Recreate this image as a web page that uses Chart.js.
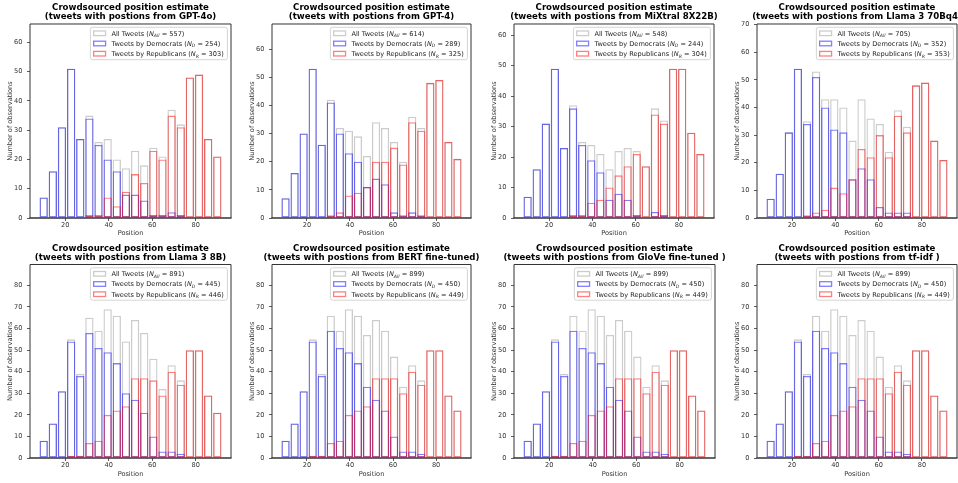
<!DOCTYPE html>
<html>
<head>
<meta charset="utf-8">
<script src="https://cdn.jsdelivr.net/npm/chart.js@4.4.1/dist/chart.umd.min.js"></script>
<style>
  html, body { margin: 0; padding: 0; background: #fff; overflow: hidden; width: 958px; height: 483px; }
  #fig { position: relative; width: 958px; height: 483px; overflow: hidden; background: #fff; }
  #fig canvas { position: absolute; }
</style>
</head>
<body>
<div id="fig"></div>
<script>
// Histogram bins shared by every panel (position scale 0-100)
const binEdges = [8, 12.2, 16.4, 20.6, 24.8, 29, 33.2, 37.4, 41.6, 45.8, 50,
                  54.2, 58.4, 62.6, 66.8, 71, 75.2, 79.4, 83.6, 87.8, 92];
const xTicks = [20, 40, 60, 80];
const yTicks60 = [0, 10, 20, 30, 40, 50, 60];
const yTicks70 = [0, 10, 20, 30, 40, 50, 60, 70];
const yTicks80 = [0, 10, 20, 30, 40, 50, 60, 70, 80];

// Counts per bin: all tweets, tweets by Democrats, tweets by Republicans
const all_gpt4o = [7, 16, 31, 51, 27, 35, 26, 27, 20, 17, 23, 18, 24, 21, 37, 32, 48, 49, 27, 21];
const dem_gpt4o = [7, 16, 31, 51, 27, 34, 25, 20, 16, 8, 8, 6, 1, 1, 2, 1, 0, 0, 0, 0];
const rep_gpt4o = [0, 0, 0, 0, 0, 1, 1, 7, 4, 9, 15, 12, 23, 20, 35, 31, 48, 49, 27, 21];

const all_gpt4 = [7, 16, 30, 53, 26, 42, 32, 31, 29, 22, 34, 32, 27, 20, 36, 32, 48, 49, 27, 21];
const dem_gpt4 = [7, 16, 30, 53, 26, 41, 30, 23, 20, 11, 14, 12, 2, 1, 2, 1, 0, 0, 0, 0];
const rep_gpt4 = [0, 0, 0, 0, 0, 1, 2, 8, 9, 11, 20, 20, 25, 19, 34, 31, 48, 49, 27, 21];

const all_mixtral = [7, 16, 31, 49, 23, 37, 25, 24, 21, 16, 22, 23, 22, 17, 36, 32, 49, 49, 28, 21];
const dem_mixtral = [7, 16, 31, 49, 23, 36, 24, 19, 15, 6, 8, 6, 1, 0, 2, 1, 0, 0, 0, 0];
const rep_mixtral = [0, 0, 0, 0, 0, 1, 1, 5, 6, 10, 14, 17, 21, 17, 34, 31, 49, 49, 28, 21];

const all_llama70 = [7, 16, 31, 54, 35, 53, 43, 43, 40, 28, 43, 36, 34, 24, 39, 33, 48, 49, 28, 21];
const dem_llama70 = [7, 16, 31, 54, 34, 51, 40, 32, 31, 14, 18, 14, 4, 2, 2, 2, 0, 0, 0, 0];
const rep_llama70 = [0, 0, 0, 0, 1, 2, 3, 11, 9, 14, 25, 22, 30, 22, 37, 31, 48, 49, 28, 21];

const all_llama8 = [8, 16, 31, 55, 39, 65, 59, 69, 66, 54, 64, 58, 46, 32, 43, 36, 50, 50, 29, 21];
const dem_llama8 = [8, 16, 31, 54, 38, 58, 51, 49, 44, 30, 27, 21, 10, 3, 3, 2, 0, 0, 0, 0];
const rep_llama8 = [0, 0, 0, 1, 1, 7, 8, 20, 22, 24, 37, 37, 36, 29, 40, 34, 50, 50, 29, 21];

const all_bert = [8, 16, 31, 55, 39, 66, 59, 69, 66, 57, 64, 59, 47, 33, 43, 36, 50, 50, 29, 22];
const dem_bert = [8, 16, 31, 54, 38, 59, 51, 49, 44, 33, 27, 22, 10, 3, 3, 2, 0, 0, 0, 0];
const rep_bert = [0, 0, 0, 1, 1, 7, 8, 20, 22, 24, 37, 37, 37, 30, 40, 34, 50, 50, 29, 22];

const all_glove = [8, 16, 31, 55, 39, 66, 59, 69, 66, 57, 64, 59, 47, 33, 43, 36, 50, 50, 29, 22];
const dem_glove = [8, 16, 31, 54, 38, 59, 51, 49, 44, 33, 27, 22, 10, 3, 3, 2, 0, 0, 0, 0];
const rep_glove = [0, 0, 0, 1, 1, 7, 8, 20, 22, 24, 37, 37, 37, 30, 40, 34, 50, 50, 29, 22];

const all_tfidf = [8, 16, 31, 55, 39, 66, 59, 69, 66, 57, 64, 59, 47, 33, 43, 36, 50, 50, 29, 22];
const dem_tfidf = [8, 16, 31, 54, 38, 59, 51, 49, 44, 33, 27, 22, 10, 3, 3, 2, 0, 0, 0, 0];
const rep_tfidf = [0, 0, 0, 1, 1, 7, 8, 20, 22, 24, 37, 37, 37, 30, 40, 34, 50, 50, 29, 22];

const FONT = '"DejaVu Sans", "Liberation Sans", sans-serif';
const COL_ALL = 'rgba(128,128,128,0.4)';
const COL_DEM = 'rgba(0,0,255,0.5)';
const COL_REP = 'rgba(255,0,0,0.5)';

const panels = [
  { model: 'GPT-4o',           all: all_gpt4o,   dem: dem_gpt4o,   rep: rep_gpt4o,   yTicks: yTicks60, row: 0, axL: 30,  axW: 201, sub: 'All' },
  { model: 'GPT-4',            all: all_gpt4,    dem: dem_gpt4,    rep: rep_gpt4,    yTicks: yTicks60, row: 0, axL: 272, axW: 199, sub: 'All' },
  { model: 'MiXtral 8X22B',    all: all_mixtral, dem: dem_mixtral, rep: rep_mixtral, yTicks: yTicks60, row: 0, axL: 514, axW: 200, sub: 'All' },
  { model: 'Llama 3 70Bq4',    all: all_llama70, dem: dem_llama70, rep: rep_llama70, yTicks: yTicks70, row: 0, axL: 757, axW: 200, sub: 'All' },
  { model: 'Llama 3 8B',       all: all_llama8,  dem: dem_llama8,  rep: rep_llama8,  yTicks: yTicks80, row: 1, axL: 30,  axW: 201, sub: 'All' },
  { model: 'BERT fine-tuned',  all: all_bert,    dem: dem_bert,    rep: rep_bert,    yTicks: yTicks80, row: 1, axL: 272, axW: 199, sub: 'All' },
  { model: 'GloVe fine-tuned ', all: all_glove,  dem: dem_glove,   rep: rep_glove,   yTicks: yTicks80, row: 1, axL: 514, axW: 201, sub: 'All' },
  { model: 'tf-idf ',          all: all_tfidf,   dem: dem_tfidf,   rep: rep_tfidf,   yTicks: yTicks80, row: 1, axL: 757, axW: 200, sub: 'All' }
];

// Row geometry: canvas top, canvas height, x-axis band height, title paddings
const rows = [
  { top: 0,   h: 242, xH: 24, tTop: 2.6, tBot: 2.6 },
  { top: 242, h: 241, xH: 25, tTop: 2.0, tBot: 1.7 }
];

const binCenters = binEdges.slice(0, -1).map((e, i) => (e + binEdges[i + 1]) / 2);
const span = binEdges[binEdges.length - 1] - binEdges[0];
const xMin = binEdges[0] - 0.05 * span;
const xMax = binEdges[binEdges.length - 1] + 0.05 * span;
const sum = a => a.reduce((s, v) => s + v, 0);

// Full matplotlib-style frame around the plotting area
const framePlugin = {
  id: 'frame',
  afterDatasetsDraw(chart) {
    const { ctx, chartArea: a } = chart;
    ctx.save();
    ctx.strokeStyle = '#333';
    ctx.lineWidth = 1;
    ctx.beginPath();
    ctx.moveTo(a.left, a.bottom);
    ctx.lineTo(a.left, a.top);
    ctx.lineTo(a.right, a.top);
    ctx.lineTo(a.right, a.bottom);
    ctx.stroke();
    ctx.lineWidth = 1.6;
    ctx.beginPath();
    ctx.moveTo(a.left - 0.5, a.bottom);
    ctx.lineTo(a.right + 0.5, a.bottom);
    ctx.stroke();
    ctx.restore();
  }
};

// Legend boxed inside the upper-right corner of the plotting area,
// with N and its subscript set in italics
const innerLegendPlugin = {
  id: 'innerLegend',
  afterDraw(chart, args, opts) {
    const { ctx, chartArea: a } = chart;
    const fs = 6.6;
    const fNorm = fs + 'px ' + FONT;
    const fItal = 'italic ' + fs + 'px ' + FONT;
    const fSub = 'italic 4.6px ' + FONT;
    const items = chart.data.datasets.map(ds => ({
      color: ds.borderColor,
      parts: [
        { text: ds.legendText + ' (', font: fNorm, dy: 0 },
        { text: 'N', font: fItal, dy: 0 },
        { text: ds.legendSub, font: fSub, dy: 1.6 },
        { text: ' = ' + sum(ds.data.map(d => d.y)) + ')', font: fNorm, dy: 0 }
      ]
    }));
    ctx.save();
    const widths = items.map(it => it.parts.reduce((w, p) => { ctx.font = p.font; return w + ctx.measureText(p.text).width; }, 0));
    const pad = 2.64, handleW = 13.2, handleGap = 5.3, rowGap = 10.2, firstOff = 6.0;
    const boxW = pad + handleW + handleGap + Math.max(...widths) + pad + 1;
    const boxH = firstOff * 2 + rowGap * (items.length - 1);
    const right = a.right - 3.6;
    const top = a.top + 3.3;
    const left = right - boxW;
    // box
    const r = 2;
    ctx.beginPath();
    ctx.moveTo(left + r, top);
    ctx.lineTo(right - r, top);
    ctx.quadraticCurveTo(right, top, right, top + r);
    ctx.lineTo(right, top + boxH - r);
    ctx.quadraticCurveTo(right, top + boxH, right - r, top + boxH);
    ctx.lineTo(left + r, top + boxH);
    ctx.quadraticCurveTo(left, top + boxH, left, top + boxH - r);
    ctx.lineTo(left, top + r);
    ctx.quadraticCurveTo(left, top, left + r, top);
    ctx.closePath();
    ctx.fillStyle = 'rgba(255,255,255,0.8)';
    ctx.fill();
    ctx.strokeStyle = '#d0d0d0';
    ctx.lineWidth = 0.9;
    ctx.stroke();
    // rows
    items.forEach((it, i) => {
      const cy = top + firstOff + i * rowGap;
      ctx.strokeStyle = it.color;
      ctx.lineWidth = 1.3;
      ctx.strokeRect(left + pad + 0.65, cy - 2.3, handleW - 1.3, 4.6);
      let x = left + pad + handleW + handleGap;
      ctx.fillStyle = '#222';
      ctx.textBaseline = 'alphabetic';
      ctx.textAlign = 'left';
      it.parts.forEach(p => {
        ctx.font = p.font;
        ctx.fillText(p.text, x, cy + 2.4 + p.dy);
        x += ctx.measureText(p.text).width;
      });
    });
    ctx.restore();
  }
};

const fig = document.getElementById('fig');

function histSet(label, sub, vals, color, order) {
  return {
    label: label,
    legendText: label,
    legendSub: sub,
    data: vals.map((v, i) => ({ x: binCenters[i], y: v })),
    borderColor: color,
    backgroundColor: 'rgba(0,0,0,0)',
    borderWidth: 1.3,
    borderSkipped: false,
    barPercentage: 0.91,
    categoryPercentage: 1,
    grouped: false,
    order: order,
    xAxisID: 'x',
    yAxisID: 'y'
  };
}

panels.forEach(p => {
  const row = rows[p.row];
  const canvas = document.createElement('canvas');
  const w = p.axW + 60;
  canvas.width = w;
  canvas.height = row.h;
  canvas.style.left = (p.axL - 30) + 'px';
  canvas.style.top = row.top + 'px';
  canvas.style.width = w + 'px';
  canvas.style.height = row.h + 'px';
  fig.appendChild(canvas);

  const yMax = Math.max(...p.all) * 1.3;
  const tickFont = { family: FONT, size: 6.6 };

  new Chart(canvas, {
    type: 'bar',
    data: {
      datasets: [
        histSet('All Tweets', p.sub, p.all, COL_ALL, 2),
        histSet('Tweets by Democrats', 'D', p.dem, COL_DEM, 1),
        histSet('Tweets by Republicans', 'R', p.rep, COL_REP, 0)
      ]
    },
    options: {
      responsive: false,
      animation: false,
      devicePixelRatio: 1,
      events: [],
      layout: { padding: 0 },
      plugins: {
        legend: { display: false },
        tooltip: { enabled: false },
        title: {
          display: true,
          text: ['Crowdsourced position estimate', '(tweets with postions from ' + p.model + ')'],
          color: '#000',
          font: { family: FONT, size: 8.6, weight: 'bold', lineHeight: 1.093 },
          padding: { top: row.tTop, bottom: row.tBot }
        }
      },
      scales: {
        x: {
          type: 'linear',
          position: 'bottom',
          min: xMin,
          max: xMax,
          offset: false,
          afterBuildTicks: s => { s.ticks = xTicks.map(v => ({ value: v })); },
          afterFit: s => { s.height = row.xH; },
          grid: { display: true, drawOnChartArea: false, offset: false, tickLength: 3, tickColor: '#333', tickWidth: 0.8 },
          border: { display: false },
          ticks: { font: tickFont, color: '#333', padding: 0.5, maxRotation: 0, autoSkip: false },
          title: { display: true, text: 'Position', color: '#333', font: tickFont, padding: { top: 0, bottom: 4.5 } }
        },
        y: {
          type: 'linear',
          position: 'left',
          min: 0,
          max: yMax,
          afterBuildTicks: s => { s.ticks = p.yTicks.map(v => ({ value: v })); },
          afterFit: s => { s.width = 30; },
          grid: { display: true, drawOnChartArea: false, tickLength: 3, tickColor: '#333', tickWidth: 0.8 },
          border: { display: false },
          ticks: { font: tickFont, color: '#333', padding: 4.5 },
          title: { display: true, text: 'Number of observations', color: '#333', font: tickFont, padding: { top: 6.5, bottom: 0 } }
        },
        yRight: {
          type: 'linear',
          axis: 'y',
          position: 'right',
          display: true,
          afterFit: s => { s.width = 30; },
          grid: { display: false },
          border: { display: false },
          ticks: { display: false }
        }
      }
    },
    plugins: [framePlugin, innerLegendPlugin]
  });
});
</script>
</body>
</html>
